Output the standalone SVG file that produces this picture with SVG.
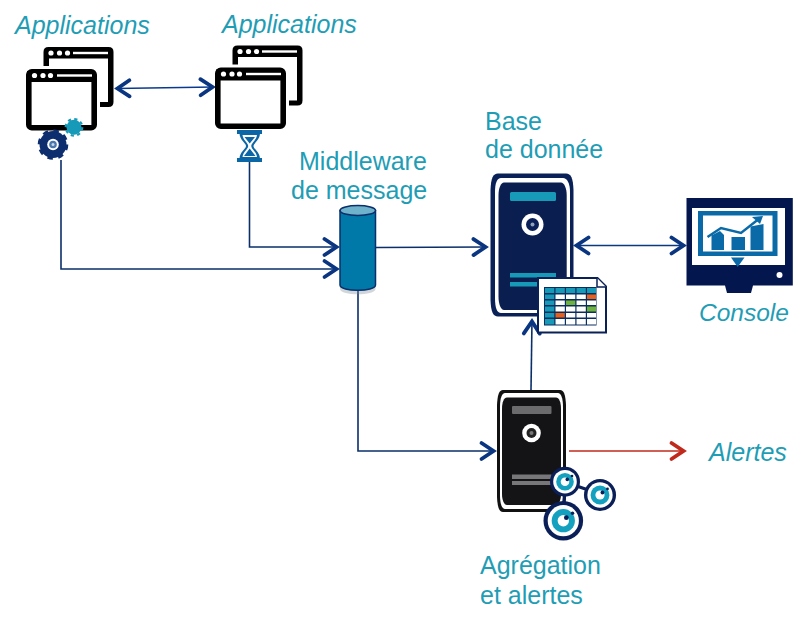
<svg xmlns="http://www.w3.org/2000/svg" width="812" height="618" viewBox="0 0 812 618">
<style>
text{font-family:"Liberation Sans",Arial,sans-serif;font-size:25px;fill:#1f9db5}
.i{font-style:italic}
.c{fill:none;stroke:#0a2f6b;stroke-width:1.6}
.t{fill:#179ab8}
</style>
<defs>
<marker id="a" markerUnits="userSpaceOnUse" markerWidth="28" markerHeight="28" refX="17" refY="14" orient="auto-start-reverse"><path d="M3.500 6L15.500 14L3.500 22" fill="none" stroke="#0a3580" stroke-width="3.800" stroke-linecap="round" stroke-linejoin="miter"/></marker>
<marker id="r" markerUnits="userSpaceOnUse" markerWidth="28" markerHeight="28" refX="17" refY="14" orient="auto"><path d="M3.500 6L15.500 14L3.500 22" fill="none" stroke="#c02a1c" stroke-width="3.800" stroke-linecap="round"/></marker>
<g id="win">
<path d="M43.500 66V52Q43.500 47 48.500 47H108.500Q113.500 47 113.500 52V102Q113.500 107 108.500 107H100V102H108V58.500H49V66Z" fill="#000"/>
<circle cx="51" cy="53" r="2.600" fill="#fff"/><circle cx="59.500" cy="53" r="2.600" fill="#fff"/><circle cx="67.500" cy="53" r="2.600" fill="#fff"/>
<rect x="73" y="51.800" width="35" height="2.400" fill="#fff"/>
<rect x="28.800" y="71.800" width="65.400" height="55.900" rx="3" fill="#fff" stroke="#000" stroke-width="5.600"/>
<rect x="27" y="71" width="67" height="11" fill="#000"/>
<circle cx="34.500" cy="75.500" r="2.600" fill="#fff"/><circle cx="43" cy="75.500" r="2.600" fill="#fff"/><circle cx="50.500" cy="75.500" r="2.600" fill="#fff"/>
<rect x="57" y="74.300" width="35" height="2.400" fill="#fff"/>
</g>
<g id="knob">
<circle r="15" fill="#0a1f57"/><circle r="11.800" fill="#fff"/><circle r="8.800" fill="#14a0bf"/><circle r="4.300" fill="#fff"/><circle cx="2.300" cy="-2.300" r="1.800" fill="#0a1f57"/><circle cx="7" cy="-5.700" r="1.300" fill="#0a1f57"/>
</g>
</defs>

<g id="connectors">
<path class="c" d="M61 160V269H338" marker-end="url(#a)"/>
<path class="c" d="M249.500 162V247H338" marker-end="url(#a)"/>
<path class="c" d="M376 247.500L487 247" marker-end="url(#a)"/>
<path class="c" d="M358 290V451H495" marker-end="url(#a)"/>
<path class="c" d="M531 390L532 320" marker-end="url(#a)"/>
<path d="M116 88.500L214 87" fill="none" stroke="#0a3a90" stroke-width="1.600" marker-start="url(#a)" marker-end="url(#a)"/>
<path d="M575 245.500H685" fill="none" stroke="#0a3a80" stroke-width="1.600" marker-start="url(#a)" marker-end="url(#a)"/>
<path d="M569 451H685" fill="none" stroke="#c02a1c" stroke-width="1.600" marker-end="url(#r)"/>
</g>

<g id="apps-left">
<text class="i" x="15" y="34">Applications</text>
<use href="#win"/>
<g transform="translate(74 127.300)"><circle r="7.500" class="t"/><circle r="8.300" fill="none" stroke="#179ab8" stroke-width="2.200" stroke-dasharray="3.200 3.320"/></g>
<g transform="translate(53 144.500)"><circle r="13.500" fill="#0c2d6e"/><circle r="14" fill="none" stroke="#0c2d6e" stroke-width="2.600" stroke-dasharray="5.500 5.500"/><circle r="5.800" fill="#fff"/><circle r="3.800" fill="#4a78ad"/><circle r="1.500" fill="#c9d6e6"/></g>
</g>

<g id="apps-right">
<text class="i" x="222" y="33">Applications</text>
<use href="#win" transform="translate(189 -1.500)"/>
<g fill="#0b66a5">
<rect x="237" y="130" width="25" height="4"/><rect x="237" y="158" width="25" height="4"/>
<path d="M239.500 133H260C260 140 253.500 143 253.500 146C253.500 149 260 152 260 159H239.500C239.500 152 246 149 246 146C246 143 239.500 140 239.500 133Z"/>
</g>
<path d="M242.500 135H257C256.500 140 251.300 143 251.300 146C251.300 149 256.500 152 257 157H242.500C243 152 248.200 149 248.200 146C248.200 143 243 140 242.500 135Z" fill="#fff"/>
<path d="M244.500 137H255L249.700 143.500ZM249.700 148.500L255.500 156H244Z" fill="#0b66a5"/>
</g>

<g id="middleware">
<text x="299" y="170">Middleware</text>
<text x="291" y="199">de message</text>
<path d="M340 210V286C340 293 375.500 293 375.500 286V210Z" fill="#7a8a96" opacity=".35" transform="translate(0 3)"/>
<path d="M340 210.500V285C340 292 375.500 292 375.500 285V210.500Z" fill="#0079a8" stroke="#0a2f6b" stroke-width="1.500"/>
<ellipse cx="357.800" cy="210.500" rx="17.700" ry="5" fill="#6fb2cc" stroke="#0a2f6b" stroke-width="1.500"/>
</g>

<g id="database">
<text x="485" y="130">Base</text>
<text x="485" y="158">de donnée</text>
<path d="M498 173.500H566C571 173.500 573 178 573.500 190V300C573 312 571 316.500 566 316.500H498C493 316.500 491 312 490.500 300V190C491 178 493 173.500 498 173.500Z" fill="#0a2157"/>
<path d="M501 178H563C567 178 570 183 570 192V298C570 308 567 313 563 313H501C497 313 495 308 495 298V192C495 183 497 178 501 178Z" fill="#fff"/>
<path d="M504 182.500H561C564 182.500 566.700 188 566.700 195V297C566.700 304 564 310 561 310H504C501 310 498.500 304 498.500 297V195C498.500 188 501 182.500 504 182.500Z" fill="#0a1f50"/>
<rect x="510" y="192" width="46" height="9" rx="1.500" class="t"/>
<circle cx="532.500" cy="224.500" r="11" fill="#fff"/><circle cx="532.500" cy="224.500" r="6.500" fill="#0a1f57"/><circle cx="532.500" cy="224.500" r="2" fill="#8fa0b8"/>
<rect x="510" y="273" width="46" height="4.500" class="t"/>
<rect x="510" y="282" width="46" height="4.500" class="t"/>
<path d="M538 278H597.500L606 286.500V332.500H538Z" fill="#fff" stroke="#0a2157" stroke-width="2"/>
<path d="M597 278V287H606" fill="#fff" stroke="#0a2157" stroke-width="1.500"/>
<rect x="544" y="287" width="52.500" height="38.500" fill="#0a2f5f"/>
<g fill="#179ab8">
<rect x="545" y="288" width="9.300" height="5"/><rect x="555.500" y="288" width="9.300" height="5"/><rect x="566" y="288" width="9.300" height="5"/><rect x="576.500" y="288" width="9.300" height="5"/><rect x="587" y="288" width="9" height="5"/>
<rect x="545" y="294.500" width="9.300" height="4.500"/><rect x="545" y="300.500" width="9.300" height="4.500"/><rect x="545" y="306.500" width="9.300" height="5"/><rect x="545" y="313" width="9.300" height="4.500"/><rect x="545" y="319" width="9.300" height="5.500"/>
</g>
<g fill="#fff">
<rect x="555.500" y="294.500" width="9.300" height="4.500"/><rect x="566" y="294.500" width="9.300" height="4.500"/><rect x="576.500" y="294.500" width="9.300" height="4.500"/>
<rect x="555.500" y="300.500" width="9.300" height="4.500"/><rect x="576.500" y="300.500" width="9.300" height="4.500"/><rect x="587" y="300.500" width="9" height="4.500"/>
<rect x="555.500" y="306.500" width="9.300" height="5"/><rect x="566" y="306.500" width="9.300" height="5"/><rect x="576.500" y="306.500" width="9.300" height="5"/>
<rect x="566" y="313" width="9.300" height="4.500"/><rect x="576.500" y="313" width="9.300" height="4.500"/><rect x="587" y="313" width="9" height="4.500"/>
<rect x="555.500" y="319" width="9.300" height="5.500"/><rect x="566" y="319" width="9.300" height="5.500"/><rect x="576.500" y="319" width="9.300" height="5.500"/><rect x="587" y="319" width="9" height="5.500"/>
</g>
<rect x="587" y="294.500" width="9" height="4.500" fill="#e8601c"/>
<rect x="566" y="300.500" width="9.300" height="4.500" fill="#6fb23c"/>
<rect x="587" y="306.500" width="9" height="5" fill="#6fb23c"/>
<rect x="555.500" y="313" width="9.300" height="4.500" fill="#e8601c"/>
</g>

<g id="console">
<text class="i" x="699" y="321" style="font-size:24.500px">Console</text>
<path d="M686.500 198H792.800V285.500H753L751 293H727L725 285.500H686.500Z" fill="#03164e"/>
<rect x="692" y="208" width="93" height="57" fill="#fff"/>
<rect x="698" y="211" width="79.500" height="45" fill="#0a6aa8"/>
<rect x="703" y="215.500" width="69.500" height="36" fill="#fff"/>
<path d="M711.500 235.500L720 231L724 235V250H711.500ZM731.500 237H745V250H731.500ZM750.500 226.500L763.500 224V250H750.500Z" fill="#0a6aa8"/>
<path d="M707.500 237L721 228L741 233L760 218" fill="none" stroke="#0a6aa8" stroke-width="2.500"/>
<path d="M752 217L763 216L760 224Z" fill="#0a6aa8"/>
<path d="M731 257.500H744.500L737.700 267Z" fill="#0a6aa8"/>
<circle cx="779.500" cy="275" r="3" fill="#fff"/>
</g>

<g id="aggregation">
<text x="480" y="574">Agrégation</text>
<text x="480" y="604">et alertes</text>
<path d="M503 390H560C564 390 565.500 395 566 405V497C565.500 507 564 512 560 512H503C499 512 497.500 507 497 497V405C497.500 395 499 390 503 390Z" fill="#111"/>
<path d="M505 393H558C561 393 563 398 563 407V495C563 504 561 509 558 509H505C502 509 500 504 500 495V407C500 398 502 393 505 393Z" fill="#fff"/>
<path d="M507 397.500H556C559 397.500 561 402 561 409V494C561 500 559 505 556 505H507C504 505 502 500 502 494V409C502 402 504 397.500 507 397.500Z" fill="#141416"/>
<rect x="512" y="406" width="39.500" height="8" rx="1" fill="#6b6b6e"/>
<circle cx="531.500" cy="433" r="9.300" fill="#fff"/><circle cx="531.500" cy="433" r="5" fill="#222"/><circle cx="531.500" cy="433" r="2" fill="#777"/>
<rect x="512" y="474.500" width="39.500" height="4.500" fill="#77777a"/>
<rect x="512" y="481" width="39.500" height="4" fill="#77777a"/>
<path d="M565 482L600 494M565 482L563 522" stroke="#0a1f57" stroke-width="3" fill="none"/>
<use href="#knob" transform="translate(565 481.700)"/>
<use href="#knob" transform="translate(600 495) scale(1.070)"/>
<use href="#knob" transform="translate(563.300 520.700) scale(1.320)"/>
</g>

<g id="alertes">
<text class="i" x="709" y="461">Alertes</text>
</g>
</svg>
